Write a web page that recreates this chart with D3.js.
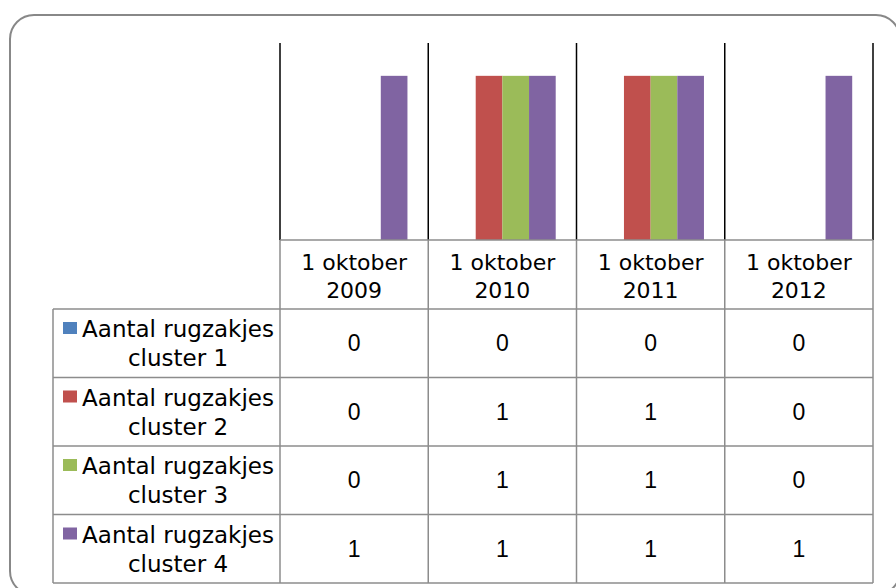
<html>
<script src="https://d3js.org/d3.v7.min.js"></script>
<style>
    body { margin: 0; background: #fff; }
    text { font-family: 'DejaVu Sans', sans-serif; fill: #000; }
    .val { font-family: 'Liberation Sans', Arial, sans-serif; }
</style>
<body>
<div id="chart"></div>
<script>
    // data
    var categories = ["1 oktober 2009", "1 oktober 2010", "1 oktober 2011", "1 oktober 2012"];
    var seriesNames = ["Aantal rugzakjes cluster 1", "Aantal rugzakjes cluster 2",
                       "Aantal rugzakjes cluster 3", "Aantal rugzakjes cluster 4"];
    var cluster1 = [0, 0, 0, 0];
    var cluster2 = [0, 1, 1, 0];
    var cluster3 = [0, 1, 1, 0];
    var cluster4 = [1, 1, 1, 1];
    var seriesValues = [cluster1, cluster2, cluster3, cluster4];
    var colors = ["#4F81BD", "#C0504D", "#9BBB59", "#8064A2"];

    var width = 896, height = 588;
    var plotLeft = 280, plotRight = 873, plotTop = 43, plotBottom = 240;
    var headerBottom = 309, rowH = 68.5, tableLeft = 53;
    var gridColor = "#8c8c8c";

    var svg = d3.select("#chart").append("svg")
        .attr("width", width)
        .attr("height", height);

    // rounded frame
    svg.append("rect")
        .attr("x", 10).attr("y", 15)
        .attr("width", 890).attr("height", 580)
        .attr("rx", 24).attr("ry", 24)
        .attr("fill", "none")
        .attr("stroke", "#888")
        .attr("stroke-width", 2);

    var x = d3.scaleBand().domain(categories).range([plotLeft, plotRight]);
    var xs = d3.scaleBand().domain(d3.range(seriesNames.length))
        .range([0, x.bandwidth()]).paddingOuter(0.78);
    var y = d3.scaleLinear().domain([0, 1.2]).range([plotBottom, plotTop]);

    // bars
    seriesValues.forEach(function(vals, s) {
        svg.append("g").selectAll("rect")
            .data(vals)
            .enter()
            .append("rect")
            .attr("x", function(d, i) { return x(categories[i]) + xs(s); })
            .attr("y", function(d) { return y(d); })
            .attr("width", xs.bandwidth())
            .attr("height", function(d) { return y(0) - y(d); })
            .attr("fill", colors[s]);
    });

    // black category separators in plot area
    var bounds = categories.map(function(c) { return x(c); }).concat([plotRight]);
    svg.append("g").selectAll("line")
        .data(bounds)
        .enter()
        .append("line")
        .attr("x1", function(d) { return d; })
        .attr("x2", function(d) { return d; })
        .attr("y1", plotTop)
        .attr("y2", plotBottom)
        .attr("stroke", "#000")
        .attr("stroke-width", 1.5);

    // data table grid
    var tableBottom = headerBottom + rowH * seriesNames.length;
    var grid = svg.append("g")
        .attr("stroke", gridColor)
        .attr("stroke-width", 1.5);
    grid.append("line").attr("x1", plotLeft).attr("x2", plotRight)
        .attr("y1", plotBottom).attr("y2", plotBottom);
    grid.selectAll(".hrow")
        .data(d3.range(seriesNames.length + 1))
        .enter()
        .append("line")
        .attr("x1", tableLeft).attr("x2", plotRight)
        .attr("y1", function(i) { return headerBottom + i * rowH; })
        .attr("y2", function(i) { return headerBottom + i * rowH; });
    grid.selectAll(".vcol")
        .data(bounds)
        .enter()
        .append("line")
        .attr("x1", function(d) { return d; })
        .attr("x2", function(d) { return d; })
        .attr("y1", plotBottom)
        .attr("y2", tableBottom);
    grid.append("line").attr("x1", tableLeft).attr("x2", tableLeft)
        .attr("y1", headerBottom).attr("y2", tableBottom);

    // header labels
    categories.forEach(function(c) {
        var parts = [c.slice(0, c.lastIndexOf(" ")), c.slice(c.lastIndexOf(" ") + 1)];
        var t = svg.append("text")
            .attr("text-anchor", "middle")
            .style("font-size", "22px");
        parts.forEach(function(p, k) {
            t.append("tspan")
                .attr("x", x(c) + x.bandwidth() / 2)
                .attr("y", 270 + k * 28)
                .text(p);
        });
    });

    // row labels with legend keys
    var labelCx = 178;
    seriesNames.forEach(function(name, s) {
        var top = headerBottom + s * rowH;
        var line1 = name.slice(0, name.lastIndexOf(" cluster"));
        var line2 = name.slice(name.lastIndexOf(" cluster") + 1);
        svg.append("rect")
            .attr("x", 63).attr("y", top + 13)
            .attr("width", 14).attr("height", 12)
            .attr("fill", colors[s]);
        svg.append("text")
            .attr("x", labelCx).attr("y", top + 28)
            .attr("text-anchor", "middle")
            .style("font-size", "23px")
            .text(line1);
        svg.append("text")
            .attr("x", labelCx).attr("y", top + 57)
            .attr("text-anchor", "middle")
            .style("font-size", "23px")
            .text(line2);

        seriesValues[s].forEach(function(v, i) {
            svg.append("text")
                .attr("class", "val")
                .attr("x", x(categories[i]) + x.bandwidth() / 2)
                .attr("y", top + rowH / 2 + 8)
                .attr("text-anchor", "middle")
                .style("font-size", "23px")
                .text(v);
        });
    });
</script>
</body>
</html>
